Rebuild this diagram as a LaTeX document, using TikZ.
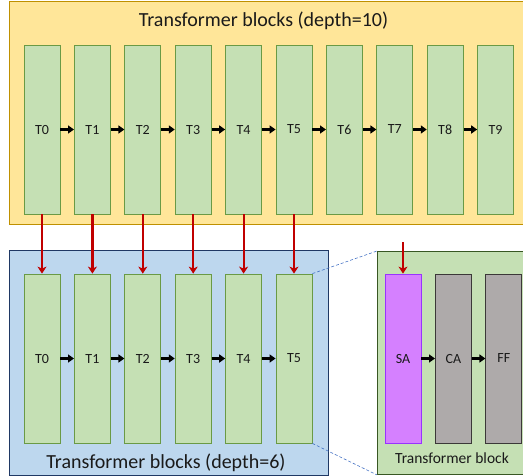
\documentclass[tikz,border=0pt]{standalone}
\usepackage{fontspec}
\setmainfont{Carlito}
\usepackage{tikz}
\usetikzlibrary{arrows.meta, positioning}
\definecolor{teacherbg}{HTML}{FFE699}
\definecolor{teacherborder}{HTML}{BF9000}
\definecolor{studentbg}{HTML}{BDD7EE}
\definecolor{studentborder}{HTML}{1F3864}
\definecolor{layerbg}{HTML}{C5E0B4}
\definecolor{layerborder}{HTML}{6A9A45}
\definecolor{blockborder}{HTML}{385723}
\definecolor{attnbg}{HTML}{D580FF}
\definecolor{attnborder}{HTML}{9933FF}
\definecolor{subbg}{HTML}{AEAAAA}
\definecolor{subborder}{HTML}{3B3838}
\definecolor{feedred}{HTML}{C00000}
\definecolor{zoomblue}{HTML}{4472C4}
\definecolor{labeltext}{HTML}{1A1A1A}

\begin{document}
\begin{tikzpicture}[
  x=1pt, y=-1pt,
  node distance=13.6pt,
  panel/.style={rectangle, line width=0.9pt, inner sep=0pt, anchor=north west},
  tbox/.style={rectangle, draw=layerborder, fill=layerbg, line width=0.8pt,
               minimum width=36pt, minimum height=169pt, inner sep=0pt,
               font=\fontsize{14}{16}\selectfont\color{labeltext}},
  sabox/.style={tbox, draw=attnborder, fill=attnbg},
  subbox/.style={tbox, draw=subborder, fill=subbg},
  title/.style={anchor=base, inner sep=0pt, font=\fontsize{20}{24}\selectfont\color{labeltext}},
  subtitle/.style={anchor=base, inner sep=0pt, font=\fontsize{15.5}{18}\selectfont\color{labeltext}},
  arrow/.style={-{Triangle[length=6pt, width=8pt]}, line width=2.8pt, color=black},
  feed/.style={-{Stealth[length=7pt, width=9pt, inset=2pt]}, line width=2.2pt, color=feedred},
  zoomline/.style={color=zoomblue, line width=0.6pt, dash pattern=on 3pt off 2pt}
]
  \useasboundingbox (0,0) rectangle (523,475);

  % panels
  \node[panel, draw=teacherborder, fill=teacherbg, minimum width=524pt, minimum height=223.5pt] (teacher) at (9,0.5) {};
  \node[panel, draw=studentborder, fill=studentbg, minimum width=319pt, minimum height=224.5pt] (student) at (9,250) {};
  \node[panel, draw=blockborder, fill=layerbg, minimum width=150pt, minimum height=223pt] (blockpanel) at (377,251) {};

  \node[title] (teachertitle) at (263.5,26.7) {Transformer blocks (depth=10)};
  \node[title] (studenttitle) at (166,468) {Transformer blocks (depth=6)};
  \node[subtitle] (blocktitle) at (452,463) {Transformer block};

  % teacher row
  \node[tbox] (t0) at (42,129.5) {T0};
  \node[tbox, right=of t0] (t1) {T1};
  \node[tbox, right=of t1] (t2) {T2};
  \node[tbox, right=of t2] (t3) {T3};
  \node[tbox, right=of t3] (t4) {T4};
  \node[tbox, right=of t4] (t5) {T5};
  \node[tbox, right=of t5] (t6) {T6};
  \node[tbox, right=of t6] (t7) {T7};
  \node[tbox, right=of t7] (t8) {T8};
  \node[tbox, right=of t8] (t9) {T9};

  % student row
  \node[tbox] (s0) at (42,358.5) {T0};
  \node[tbox, right=of s0] (s1) {T1};
  \node[tbox, right=of s1] (s2) {T2};
  \node[tbox, right=of s2] (s3) {T3};
  \node[tbox, right=of s3] (s4) {T4};
  \node[tbox, right=of s4] (s5) {T5};

  % inside one block
  \node[sabox] (sa) at (403,358.5) {SA};
  \node[subbox, right=of sa] (ca) {CA};
  \node[subbox, right=of ca] (ff) {FF};

  \draw[arrow] (t0) -- (t1);
  \draw[arrow] (t1) -- (t2);
  \draw[arrow] (t2) -- (t3);
  \draw[arrow] (t3) -- (t4);
  \draw[arrow] (t4) -- (t5);
  \draw[arrow] (t5) -- (t6);
  \draw[arrow] (t6) -- (t7);
  \draw[arrow] (t7) -- (t8);
  \draw[arrow] (t8) -- (t9);

  \draw[arrow] (s0) -- (s1);
  \draw[arrow] (s1) -- (s2);
  \draw[arrow] (s2) -- (s3);
  \draw[arrow] (s3) -- (s4);
  \draw[arrow] (s4) -- (s5);

  \draw[arrow] (sa) -- (ca);
  \draw[arrow] (ca) -- (ff);

  \draw[feed] (t0) -- (s0);
  \draw[feed] (t1) -- (s1);
  \draw[feed] (t2) -- (s2);
  \draw[feed] (t3) -- (s3);
  \draw[feed] (t4) -- (s4);
  \draw[feed] (t5) -- (s5);

  \coordinate (sain) at (403,242);
  \draw[feed] (sain) -- (sa);

  \draw[zoomline] (s5.north east) -- (blockpanel.north west);
  \draw[zoomline] (s5.south east) -- (blockpanel.south west);
\end{tikzpicture}
\end{document}
